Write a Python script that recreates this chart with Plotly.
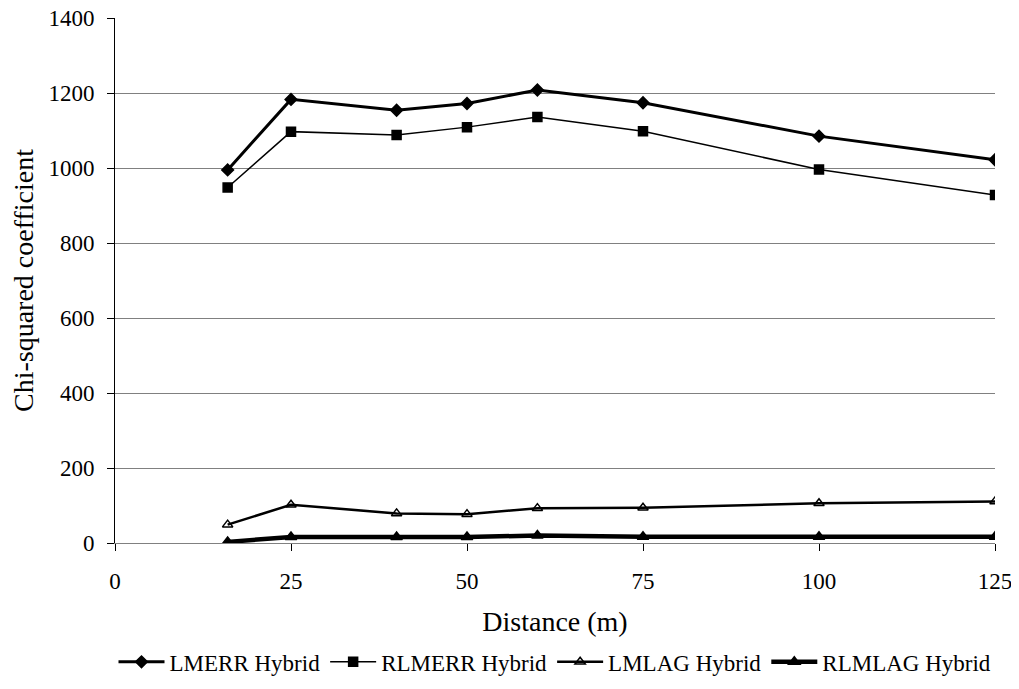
import plotly.graph_objects as go

# distance (m) and chi-squared values
distance = [16, 25, 40, 50, 60, 75, 100, 125]
lmerr_hybrid = [995, 1183, 1154, 1172, 1208, 1174, 1085, 1022]
rlmerr_hybrid = [948, 1097, 1088, 1109, 1136, 1098, 996, 928]
lmlag_hybrid = [49, 102, 79, 77, 93, 94, 106, 111]
rlmlag_hybrid = [3, 16, 16, 16, 20, 17, 17, 17]

font_name = "Liberation Serif"

fig = go.Figure()

# series: name, values, line width, marker symbol, marker size
series = [
    ("LMERR Hybrid", lmerr_hybrid, 3, "diamond", 9),
    ("RLMERR Hybrid", rlmerr_hybrid, 1.5, "square", 9),
    ("LMLAG Hybrid", lmlag_hybrid, 2.5, "triangle-up-open", 9),
    ("RLMLAG Hybrid", rlmlag_hybrid, 4.5, "triangle-up", 10),
]
for name, vals, width, symbol, size in series:
    fig.add_trace(go.Scatter(
        x=distance, y=vals, name=name, mode="lines+markers",
        line=dict(color="black", width=width),
        marker=dict(symbol=symbol, size=size, color="black",
                    line=dict(color="black", width=1.5)),
    ))

# page body adds an 8px offset, margins account for it
fig.update_layout(
    width=1019, height=689,
    margin=dict(l=107, r=32, t=10, b=154, autoexpand=False),
    paper_bgcolor="white", plot_bgcolor="white",
    font=dict(family=font_name, size=23, color="black"),
    showlegend=True,
    legend=dict(orientation="h", x=0.5, xanchor="center",
                yref="container", y=0.051, yanchor="middle",
                font=dict(size=23), itemwidth=46, tracegroupgap=0),
)
fig.update_xaxes(
    range=[0, 125], tickvals=[0, 25, 50, 75, 100, 125],
    showgrid=False, zeroline=False,
    showline=True, linecolor="#808080", linewidth=1,
    ticks="outside", ticklen=7, tickcolor="black",
    ticklabelstandoff=10, ticklabeloverflow="allow",
    title=dict(text="Distance (m)", standoff=18),
)
fig.update_yaxes(
    range=[0, 1400], dtick=200,
    showgrid=True, gridcolor="#808080", gridwidth=1,
    zeroline=False,
    showline=True, linecolor="black", linewidth=1,
    ticks="outside", ticklen=7, tickcolor="black",
    ticklabelstandoff=8, ticklabeloverflow="allow",
    title=dict(text="Chi-squared coefficient", standoff=12),
)

fig.write_html("out.html")
